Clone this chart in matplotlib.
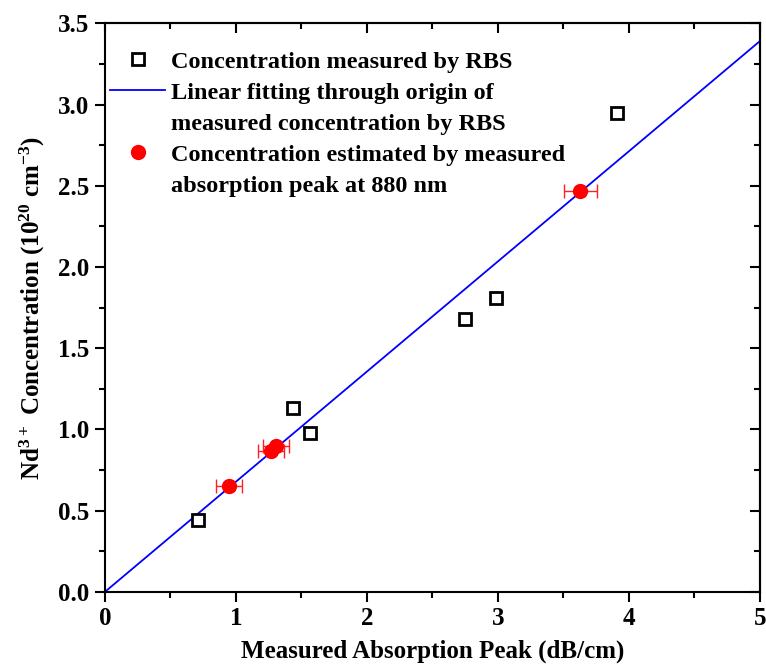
import matplotlib
matplotlib.use("Agg")
import matplotlib.pyplot as plt
import numpy as np
from matplotlib.lines import Line2D
from matplotlib.ticker import MultipleLocator, FormatStrFormatter

plt.rcParams['font.family'] = ['Liberation Serif', 'DejaVu Serif']
plt.rcParams['font.weight'] = 'bold'
plt.rcParams['mathtext.fontset'] = 'custom'
plt.rcParams['mathtext.rm'] = 'Liberation Serif'
plt.rcParams['mathtext.bf'] = 'Liberation Serif:bold'
plt.rcParams['mathtext.default'] = 'regular'

# RBS-measured concentrations
rbs_x = [0.71, 1.435, 1.565, 2.75, 2.985, 3.91]
rbs_y = [0.44, 1.13, 0.98, 1.68, 1.81, 2.95]

# Estimated from absorption peak
est_x = [0.947, 1.27, 1.305, 3.63]
est_y = [0.65, 0.865, 0.895, 2.47]
est_xerr = [0.10, 0.10, 0.10, 0.125]

# Linear fit through origin
fit_slope = 0.678
fit_x = [0, 5]

fig = plt.figure(figsize=(7.66, 6.65), dpi=100)
ax = fig.add_axes([0.137, 0.110, 0.855, 0.855])

fit_y = [fit_slope * v for v in fit_x]
ax.plot(fit_x, fit_y, color='#0000ff', lw=1.3, zorder=2)
ax.errorbar(est_x, est_y, xerr=est_xerr, fmt='o', color='red', ms=10,
            ecolor='#ff2020', elinewidth=1.0, capsize=5, capthick=1.0, zorder=3)
ax.plot(rbs_x, rbs_y, 's', mfc='white', mec='black', mew=2.0, ms=8.5,
        ls='none', zorder=4)

ax.set_xlim(0, 5)
ax.set_ylim(0, 3.5)
ax.xaxis.set_major_locator(MultipleLocator(1))
ax.xaxis.set_minor_locator(MultipleLocator(0.5))
ax.yaxis.set_major_locator(MultipleLocator(0.5))
ax.yaxis.set_minor_locator(MultipleLocator(0.25))
ax.yaxis.set_major_formatter(FormatStrFormatter('%.1f'))

for s in ax.spines.values():
    s.set_linewidth(1.5)
ax.tick_params(which='both', direction='out', width=1.5, labelsize=18,
               top=False, right=False)
ax.tick_params(which='major', length=7, pad=4)
ax.tick_params(which='minor', length=4)

# inward ticks on top and right
ax2 = ax.secondary_xaxis('top')
ax2.xaxis.set_major_locator(MultipleLocator(1))
ax2.xaxis.set_minor_locator(MultipleLocator(0.5))
ax2.tick_params(which='both', direction='in', width=1.5, labeltop=False)
ax2.tick_params(which='major', length=7)
ax2.tick_params(which='minor', length=4)
ax2.spines['top'].set_linewidth(1.5)
ax3 = ax.secondary_yaxis('right')
ax3.yaxis.set_major_locator(MultipleLocator(0.5))
ax3.yaxis.set_minor_locator(MultipleLocator(0.25))
ax3.tick_params(which='both', direction='in', width=1.5, labelright=False)
ax3.tick_params(which='major', length=7)
ax3.tick_params(which='minor', length=4)
ax3.spines['right'].set_linewidth(1.5)

ax.set_xlabel('Measured Absorption Peak (dB/cm)', fontsize=18, fontweight='bold', labelpad=7)
ax.set_ylabel(r'Nd$^{3+}$ Concentration (10$^{20}$ cm$^{-3}$)', fontsize=18,
              fontweight='bold', labelpad=8)

h_sq = Line2D([], [], marker='s', mfc='white', mec='black', mew=2.0, ms=8, ls='none')
h_ln = Line2D([], [], color='#0000ff', lw=1.3)
h_ci = Line2D([], [], marker='o', color='red', ms=10, ls='none')
h_no = Line2D([], [], ls='none')
leg = ax.legend([h_sq, h_ln, h_no, h_ci, h_no],
                ['Concentration measured by RBS',
                 'Linear fitting through origin of',
                 'measured concentration by RBS',
                 'Concentration estimated by measured',
                 'absorption peak at 880 nm'],
                loc='upper left', bbox_to_anchor=(0.008, 0.952), frameon=False,
                fontsize=17.5, handlelength=2.26, handletextpad=0.25,
                labelspacing=0.37, borderaxespad=0, borderpad=0)

fig.savefig('out.png', dpi=100)
